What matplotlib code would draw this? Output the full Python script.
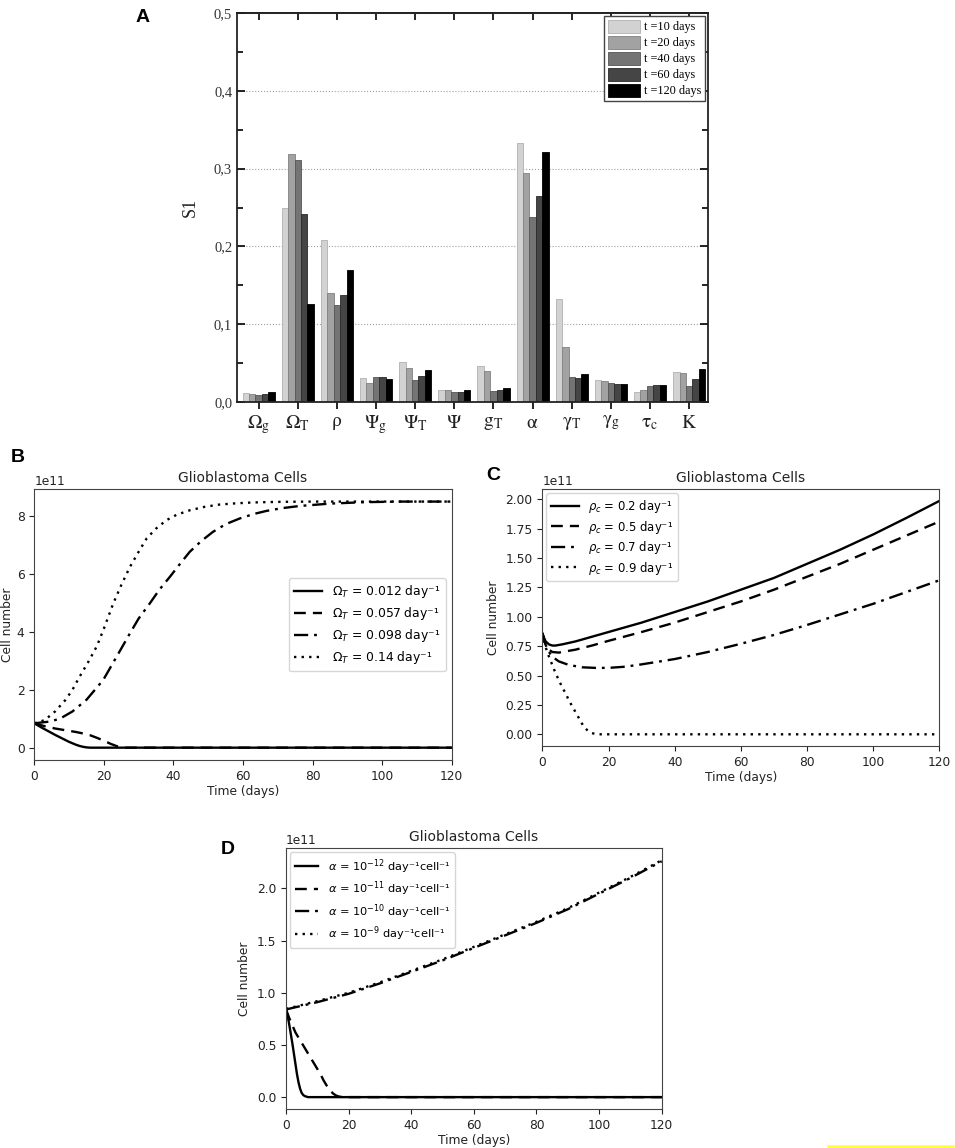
import matplotlib
matplotlib.use("Agg")
import matplotlib.pyplot as plt
import numpy as np
from matplotlib.ticker import FuncFormatter, MultipleLocator
from matplotlib.lines import Line2D

# ---------------- Panel A data ----------------
params = [r'$\mathrm{\Omega_g}$', r'$\mathrm{\Omega_T}$', r'$\mathrm{\rho}$', r'$\mathrm{\Psi_g}$',
          r'$\mathrm{\Psi_T}$', r'$\mathrm{\Psi}$', r'$\mathrm{g_T}$', r'$\mathrm{\alpha}$',
          r'$\mathrm{\gamma_T}$', r'$\mathrm{\gamma_g}$', r'$\mathrm{\tau_c}$', r'$\mathrm{K}$']
times_A = ['t =10 days', 't =20 days', 't =40 days', 't =60 days', 't =120 days']
si_t10 = [0.012, 0.250, 0.208, 0.031, 0.051, 0.016, 0.046, 0.333, 0.133, 0.028, 0.013, 0.038]
si_t20 = [0.010, 0.319, 0.140, 0.025, 0.044, 0.015, 0.040, 0.294, 0.071, 0.027, 0.015, 0.037]
si_t40 = [0.009, 0.311, 0.125, 0.032, 0.028, 0.013, 0.014, 0.238, 0.032, 0.025, 0.020, 0.020]
si_t60 = [0.010, 0.242, 0.138, 0.032, 0.033, 0.013, 0.015, 0.265, 0.031, 0.023, 0.022, 0.030]
si_t120 = [0.013, 0.126, 0.170, 0.029, 0.041, 0.016, 0.018, 0.321, 0.036, 0.023, 0.022, 0.043]

SCALE = 1e11

# ---------------- Panel B data (units of 1e11) ----------------
B_labels = [r'$\Omega_T$ = 0.012 day⁻¹', r'$\Omega_T$ = 0.057 day⁻¹',
            r'$\Omega_T$ = 0.098 day⁻¹', r'$\Omega_T$ = 0.14 day⁻¹']
B1_t = [0, 2, 4, 6, 8, 10, 12, 13, 14, 15, 16, 20, 120]
B1_y = [0.84, 0.70, 0.57, 0.44, 0.32, 0.20, 0.10, 0.06, 0.03, 0.01, 0.0, 0.0, 0.0]
B2_t = [0, 3, 6, 9, 12, 14, 16, 18, 20, 22, 24, 25, 26, 30, 120]
B2_y = [0.84, 0.74, 0.66, 0.60, 0.54, 0.49, 0.43, 0.34, 0.24, 0.13, 0.04, 0.01, 0.0, 0.0, 0.0]
B3_t = [0, 4.5, 7.4, 11, 15, 19.8, 23.5, 27.5, 30, 33.2, 36, 39, 42, 44.7, 48, 51.4, 55, 59.1, 63, 66.8,
        71, 76.4, 85, 95, 105, 120]
B3_y = [0.84, 0.90, 1.00, 1.25, 1.65, 2.33, 3.10, 3.94, 4.45, 4.97, 5.45, 5.89, 6.35, 6.75, 7.12, 7.44, 7.70,
        7.90, 8.05, 8.16, 8.25, 8.33, 8.41, 8.46, 8.48, 8.48]
B4_t = [0, 3, 6, 9, 11, 13, 15.5, 18, 20, 22.7, 25, 27.5, 30, 32.3, 35, 38, 41, 44.7, 49, 53.4, 58, 62.9,
        70, 80, 120]
B4_y = [0.84, 0.95, 1.25, 1.65, 2.00, 2.44, 2.95, 3.50, 4.10, 4.97, 5.60, 6.23, 6.75, 7.21, 7.55, 7.84, 8.03,
        8.18, 8.30, 8.38, 8.42, 8.45, 8.47, 8.48, 8.48]

# ---------------- Panel C data (units of 1e11) ----------------
C_labels = [r'$\rho_c$ = 0.2 day⁻¹', r'$\rho_c$ = 0.5 day⁻¹',
            r'$\rho_c$ = 0.7 day⁻¹', r'$\rho_c$ = 0.9 day⁻¹']
C1_t = [0, 0.5, 1, 2, 3, 4, 6, 10, 15, 20, 30, 40, 50, 60, 70, 80, 90, 100, 110, 120]
C1_y = [0.86, 0.82, 0.79, 0.765, 0.755, 0.755, 0.765, 0.79, 0.83, 0.87, 0.95, 1.04, 1.13, 1.23, 1.33, 1.45, 1.57, 1.70, 1.84, 1.985]
C2_t = [0, 1, 2, 3, 5, 8, 10, 15, 20, 30, 40, 50, 60, 70, 80, 90, 100, 110, 120]
C2_y = [0.86, 0.77, 0.72, 0.70, 0.695, 0.71, 0.72, 0.755, 0.795, 0.87, 0.95, 1.04, 1.13, 1.23, 1.34, 1.45, 1.57, 1.69, 1.81]
C3_t = [0, 1, 2, 3, 5, 8, 12, 16, 20, 25, 30, 40, 50, 60, 70, 80, 90, 100, 110, 120]
C3_y = [0.86, 0.76, 0.70, 0.66, 0.62, 0.59, 0.57, 0.565, 0.565, 0.575, 0.595, 0.64, 0.70, 0.77, 0.845, 0.93, 1.02, 1.11, 1.21, 1.31]
C4_t = [0, 1, 2, 3, 4, 5, 6, 7, 8, 9, 10, 11, 12, 13, 14, 15, 16, 17, 120]
C4_y = [0.86, 0.74, 0.66, 0.59, 0.52, 0.46, 0.40, 0.35, 0.29, 0.24, 0.19, 0.14, 0.09, 0.05, 0.025, 0.01, 0.003, 0.0, 0.0]

# ---------------- Panel D data (units of 1e11) ----------------
D_labels = [r'$\alpha$ = 10$^{-12}$ day⁻¹cell⁻¹', r'$\alpha$ = 10$^{-11}$ day⁻¹cell⁻¹',
            r'$\alpha$ = 10$^{-10}$ day⁻¹cell⁻¹', r'$\alpha$ = 10$^{-9}$ day⁻¹cell⁻¹']
D1_t = [0, 0.5, 1, 1.5, 2, 2.5, 3, 3.5, 4, 4.5, 5, 5.5, 6, 7, 120]
D1_y = [0.84, 0.78, 0.70, 0.61, 0.52, 0.42, 0.32, 0.22, 0.14, 0.08, 0.04, 0.02, 0.01, 0.0, 0.0]
D2_t = [0, 1, 2, 3, 4, 5, 6, 7, 8, 9, 10, 11, 12, 13, 14, 15, 16, 17, 18, 120]
D2_y = [0.84, 0.76, 0.69, 0.62, 0.57, 0.52, 0.47, 0.42, 0.37, 0.32, 0.27, 0.22, 0.16, 0.11, 0.07, 0.035, 0.015, 0.005, 0.0, 0.0]
D3_t = [0, 10, 20, 30, 40, 50, 60, 70, 80, 90, 100, 110, 120]
D3_y = [0.84, 0.91, 0.99, 1.09, 1.20, 1.31, 1.43, 1.55, 1.67, 1.80, 1.95, 2.10, 2.26]
D4_t = [0, 10, 20, 30, 40, 50, 60, 70, 80, 90, 100, 110, 120]
D4_y = [0.845, 0.92, 1.00, 1.10, 1.21, 1.32, 1.44, 1.56, 1.68, 1.81, 1.96, 2.11, 2.27]

# =====================================================
plt.rcParams['mathtext.fontset'] = 'dejavusans'
fig = plt.figure(figsize=(9.55, 11.48), dpi=100)

# ---------------- Panel A ----------------
serif = 'Liberation Serif'
axA = fig.add_axes([0.2482, 0.6498, 0.4932, 0.3389])
bar_colors = ['#d2d2d2', '#a2a2a2', '#747474', '#454545', '#000000']
edge_colors = ['#b0b0b0', '#808080', '#555555', '#2a2a2a', '#000000']
series_A = [si_t10, si_t20, si_t40, si_t60, si_t120]
x = np.arange(len(params))
w = 0.164
for i, (vals, c, ec, lab) in enumerate(zip(series_A, bar_colors, edge_colors, times_A)):
    axA.bar(x + (i - 2) * w, vals, width=w, color=c, edgecolor=ec, linewidth=0.6, label=lab, zorder=2)
axA.set_xlim(-0.55, 11.48)
axA.set_ylim(0, 0.5)
axA.yaxis.set_major_locator(MultipleLocator(0.1))
axA.yaxis.set_minor_locator(MultipleLocator(0.05))
axA.yaxis.set_major_formatter(FuncFormatter(lambda v, p: f"{v:.1f}".replace('.', ',')))
axA.yaxis.grid(True, which='major', linestyle=':', color='#a0a0a0', linewidth=0.8, zorder=0)
axA.set_axisbelow(True)
axA.set_xticks(x)
axA.set_xticklabels(params, fontsize=14, math_fontfamily='stix', color='#222222')
axA.tick_params(axis='x', direction='out', length=5, width=1.2, pad=3)
axA.tick_params(axis='y', which='both', direction='in', left=True, right=True, width=1.2)
axA.tick_params(axis='y', which='major', length=6)
axA.tick_params(axis='y', which='minor', length=4)
for lbl in axA.get_yticklabels():
    lbl.set_fontfamily(serif)
    lbl.set_fontsize(10.5)
    lbl.set_color('#333333')
secA = axA.secondary_xaxis('top')
secA.set_xticks(x)
secA.tick_params(axis='x', direction='in', length=5, width=1.2, labeltop=False)
for sp in list(axA.spines.values()) + list(secA.spines.values()):
    sp.set_linewidth(1.3)
    sp.set_color('#222222')
axA.set_ylabel('S1', fontfamily=serif, fontsize=13, labelpad=11, color='#222222')
legA = axA.legend(loc='upper right', prop={'family': serif, 'size': 8.8}, frameon=True, fancybox=False,
                  edgecolor='#444444', framealpha=1, handlelength=2.6, handleheight=1.3,
                  labelspacing=0.18, borderpad=0.3, handletextpad=0.35, borderaxespad=0.25)
legA.get_frame().set_linewidth(1.0)

# ---------------- Line panels ----------------
tick_fs = 8.8
lab_fs = 8.8
title_fs = 10
styles = [dict(ls='-'), dict(ls=(0, (5, 3))), dict(ls=(0, (6, 2.5, 1.2, 2.5))), dict(ls=(0, (1, 2.2)))]
lw = 1.7


def style_axis(ax, title):
    ax.set_title(title, fontsize=title_fs, color='#222222', pad=5)
    ax.tick_params(labelsize=tick_fs, colors='#222222')
    ax.set_xlim(0, 120)
    ax.set_xlabel('Time (days)', fontsize=lab_fs, color='#222222', labelpad=2)
    ax.yaxis.get_offset_text().set_fontsize(tick_fs)
    for sp in ax.spines.values():
        sp.set_color('#444444')


axB = fig.add_axes([0.0359, 0.338, 0.4371, 0.2358])
for (tt, yy), st, lab in zip([(B1_t, B1_y), (B2_t, B2_y), (B3_t, B3_y), (B4_t, B4_y)], styles, B_labels):
    axB.plot(tt, np.array(yy) * SCALE, color='black', lw=lw, label=lab, **st)
style_axis(axB, 'Glioblastoma Cells')
axB.set_ylabel('Cell number', fontsize=lab_fs, color='#222222', labelpad=2)
axB.legend(loc='center right', fontsize=8.9, handlelength=2.3, labelspacing=0.4)

axC = fig.add_axes([0.5679, 0.3502, 0.4157, 0.2236])
for (tt, yy), st, lab in zip([(C1_t, C1_y), (C2_t, C2_y), (C3_t, C3_y), (C4_t, C4_y)], styles, C_labels):
    axC.plot(tt, np.array(yy) * SCALE, color='black', lw=lw, label=lab, **st)
style_axis(axC, 'Glioblastoma Cells')
axC.set_ylabel('Cell number', fontsize=lab_fs, color='#222222')
axC.legend(loc='upper left', fontsize=8.4, handlelength=2.4, labelspacing=0.3, borderaxespad=0.35)

axD = fig.add_axes([0.2995, 0.034, 0.3934, 0.227])
for (tt, yy), st, lab in zip([(D1_t, D1_y), (D2_t, D2_y), (D3_t, D3_y), (D4_t, D4_y)], styles, D_labels):
    axD.plot(tt, np.array(yy) * SCALE, color='black', lw=lw, label=lab, **st)
style_axis(axD, 'Glioblastoma Cells')
axD.set_ylabel('Cell number', fontsize=lab_fs, color='#222222')
axD.legend(loc='upper left', fontsize=8.2, handlelength=2.1, labelspacing=0.35, borderaxespad=0.35)

# ---------------- Panel letters ----------------
for letter, (px, py) in zip('ABCD', [(143, 18), (18, 458), (493, 475), (228, 850)]):
    fig.text(px / 955, 1 - py / 1148, letter, fontsize=14, fontweight='bold',
             fontfamily='Liberation Sans', ha='center', va='center')

# yellow mark at bottom right
fig.add_artist(Line2D([828 / 955, 953 / 955], [1 - 1145.7 / 1148] * 2, color='#ffff33', lw=1.8,
                      transform=fig.transFigure))

fig.savefig('out.png', dpi=100)
